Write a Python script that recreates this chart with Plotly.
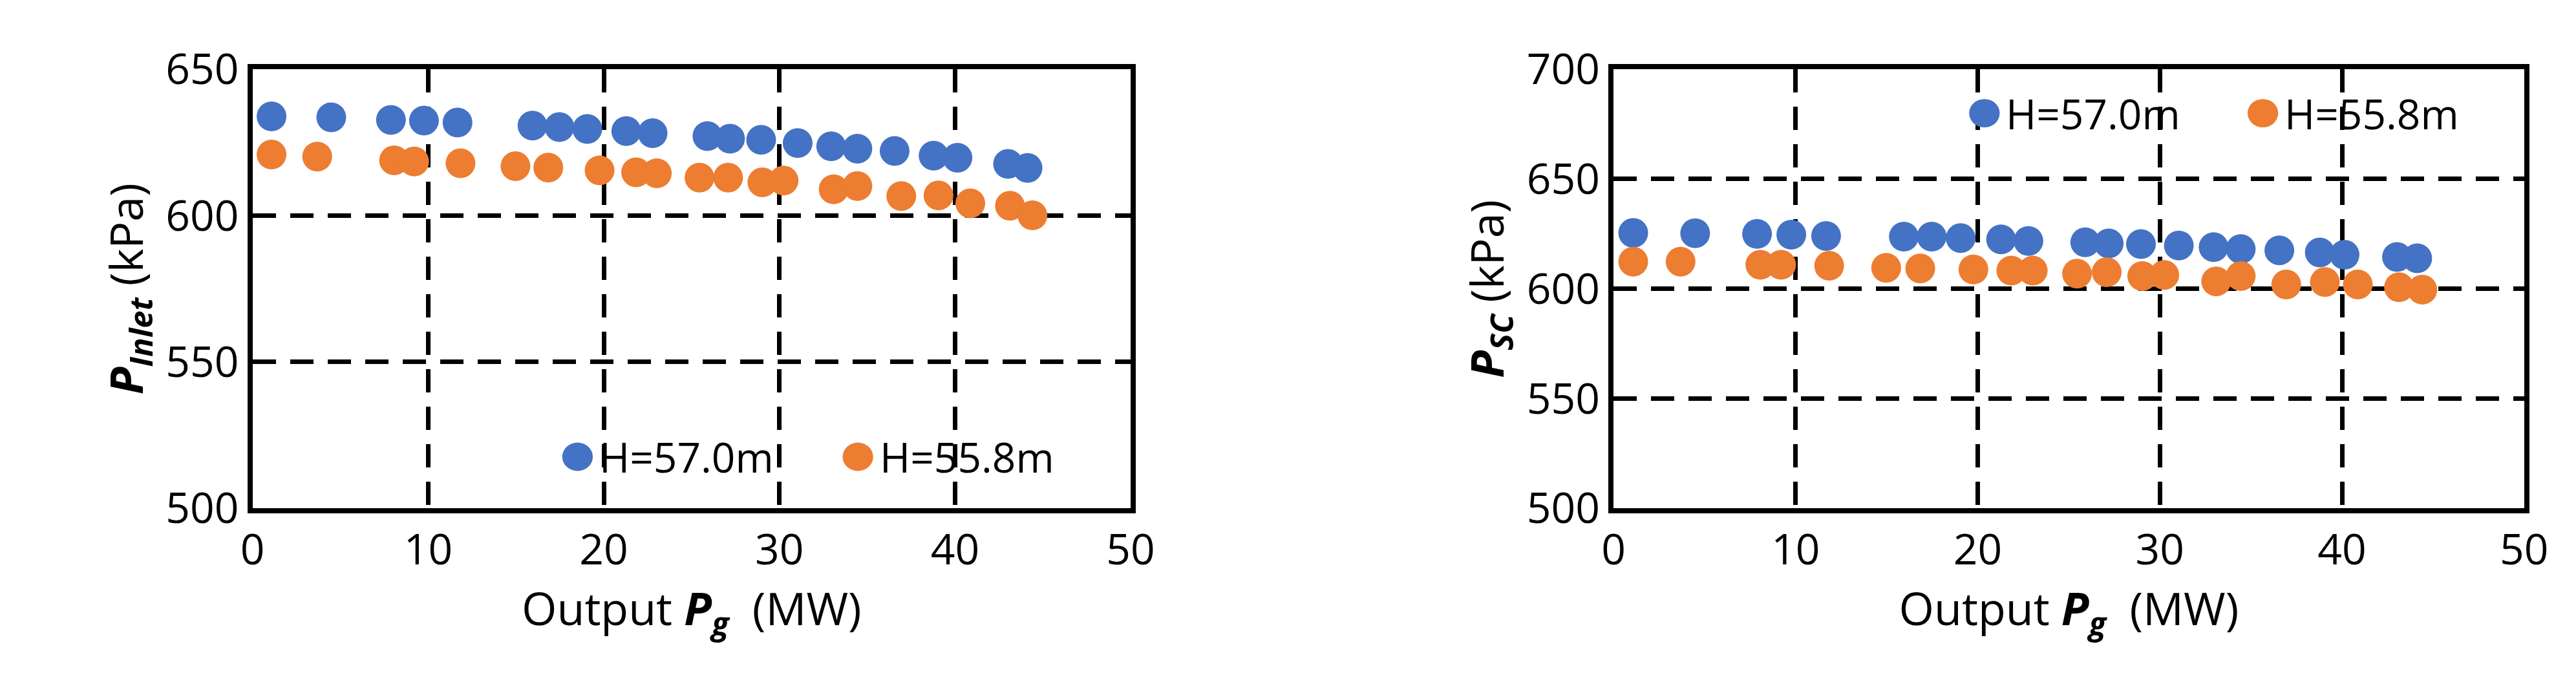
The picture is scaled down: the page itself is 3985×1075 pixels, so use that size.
import plotly.graph_objects as go

pg_blue = [1.08, 4.48, 7.88, 9.76, 11.67, 15.94, 17.47, 19.06, 21.28, 22.78, 25.9, 27.19, 28.96, 31.04, 32.95, 34.44, 36.56, 38.78, 40.14, 43.02, 44.13]
pinlet_blue = [633.9, 633.6, 632.7, 632.5, 631.8, 630.8, 630.3, 629.6, 628.9, 628.2, 627.2, 626.3, 625.9, 624.8, 623.7, 622.9, 622.1, 620.5, 619.8, 617.7, 616.3]
pg_orange = [1.08, 3.68, 8.06, 9.2, 11.84, 14.97, 16.84, 19.76, 21.84, 23.02, 25.45, 27.08, 29.03, 30.24, 33.09, 34.44, 36.94, 39.06, 40.87, 43.13, 44.41]
pinlet_orange = [620.9, 620.2, 618.9, 618.5, 617.9, 616.9, 616.4, 615.5, 614.8, 614.5, 613.0, 613.0, 611.4, 612.0, 609.0, 610.1, 606.7, 606.9, 604.2, 603.4, 600.1]
psc_blue = [625.5, 625.3, 625.0, 624.7, 624.1, 623.8, 623.8, 623.1, 622.5, 621.8, 621.2, 620.7, 620.4, 619.7, 619.0, 618.1, 617.5, 616.6, 615.5, 614.5, 613.9]
psc_orange = [612.4, 612.4, 611.0, 611.0, 610.5, 609.6, 609.3, 608.8, 608.3, 608.3, 606.9, 607.6, 605.8, 606.3, 603.4, 605.8, 602.0, 603.1, 602.0, 600.7, 599.6]
names = ["H=57.0m", "H=55.8m"]
colors = ["#4472C4", "#ED7D31"]

FONT = "Open Sans"
W, H = 3985, 1075
fig = go.Figure()
ms = 46
fig.add_trace(go.Scatter(x=pg_blue, y=pinlet_blue, mode="markers", name=names[0], marker=dict(color=colors[0], size=ms), xaxis="x", yaxis="y"))
fig.add_trace(go.Scatter(x=pg_orange, y=pinlet_orange, mode="markers", name=names[1], marker=dict(color=colors[1], size=ms), xaxis="x", yaxis="y"))
fig.add_trace(go.Scatter(x=pg_blue, y=psc_blue, mode="markers", name=names[0], marker=dict(color=colors[0], size=ms), xaxis="x2", yaxis="y2"))
fig.add_trace(go.Scatter(x=pg_orange, y=psc_orange, mode="markers", name=names[1], marker=dict(color=colors[1], size=ms), xaxis="x2", yaxis="y2"))

ax_common = dict(showline=True, linecolor="black", linewidth=8, mirror=True,
                 showgrid=True, gridcolor="black", gridwidth=7, griddash="36px,22px",
                 zeroline=False, ticks="", tickfont=dict(size=66, color="black", family=FONT))
xtitle = dict(text="Output <b><i>P</i></b><sub><b><i>g</i></b></sub>  (MW)", font=dict(size=70, color="black", family=FONT), standoff=5)

# manual legends (pixel positions of legend symbols / labels)
legend_items = [(879, 710, 0), (1319, 710, 1), (3087, 130, 0), (3524, 130, 1)]
shapes, annots = [], []
r = 24
for px, py, k in legend_items:
    shapes.append(dict(type="circle", xref="paper", yref="paper",
                       x0=(px - r) / W, x1=(px + r) / W, y0=1 - (py + r) / H, y1=1 - (py - r) / H,
                       fillcolor=colors[k], line=dict(width=0)))
    annots.append(dict(xref="paper", yref="paper", x=(px + 32) / W, y=1 - py / H, xanchor="left", yanchor="middle",
                       text=names[k], showarrow=False, font=dict(size=64, color="black", family=FONT)))

fig.update_layout(
    width=W, height=H, paper_bgcolor="white", plot_bgcolor="white",
    margin=dict(l=0, r=0, t=0, b=0), showlegend=False,
    xaxis=dict(domain=[0.0926, 0.4384], range=[0, 50], dtick=10, title=xtitle, anchor="y", **ax_common),
    yaxis=dict(domain=[0.2586, 0.948], range=[500, 650], dtick=50, anchor="x",
               title=dict(text="<b><i>P</i></b><sub><b><i>Inlet</i></b></sub> (kPa)", font=dict(size=70, color="black", family=FONT), standoff=15), **ax_common),
    xaxis2=dict(domain=[0.6286, 0.9872], range=[0, 50], dtick=10, title=xtitle, anchor="y2", **ax_common),
    yaxis2=dict(domain=[0.2586, 0.948], range=[500, 700], dtick=50, anchor="x2",
                title=dict(text="<b><i>P</i></b><sub><b><i>SC</i></b></sub> (kPa)", font=dict(size=70, color="black", family=FONT), standoff=15), **ax_common),
    shapes=shapes, annotations=annots,
)
fig.write_html("out.html")
